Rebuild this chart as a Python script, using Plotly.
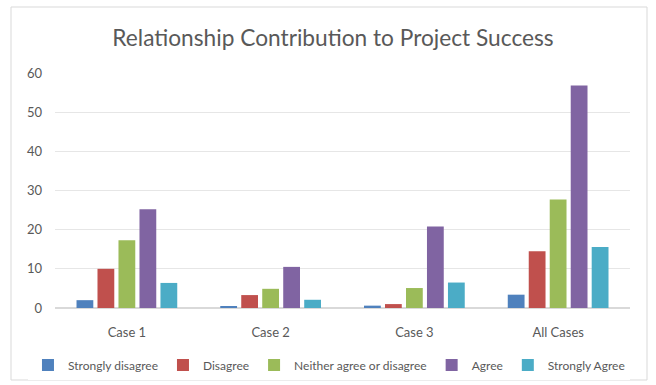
import plotly.graph_objects as go

categories = ["Case 1", "Case 2", "Case 3", "All Cases"]
series_names = ["Strongly disagree", "Disagree", "Neither agree or disagree", "Agree", "Strongly Agree"]
strongly_disagree = [2.0, 0.4, 0.6, 3.4]
disagree = [10, 3.3, 1.0, 14.5]
neither = [17.3, 4.9, 5.1, 27.7]
agree = [25.2, 10.5, 20.8, 56.8]
strongly_agree = [6.4, 2.1, 6.5, 15.6]
colors = ["#4F81BD", "#C0504D", "#9BBB59", "#8064A2", "#4BACC6"]
y_ticks = [0, 10, 20, 30, 40, 50, 60]

values = [strongly_disagree, disagree, neither, agree, strongly_agree]

fig = go.Figure()
for name, vals, col in zip(series_names, values, colors):
    fig.add_trace(go.Bar(x=categories, y=vals, name=name, marker=dict(color=col, line=dict(width=0))))

fig.update_layout(
    width=656, height=385,
    margin=dict(l=55, r=26, t=73, b=77, autoexpand=False),
    paper_bgcolor="white", plot_bgcolor="white",
    font=dict(family="Lato, Carlito, sans-serif", color="#595959", size=12),
    title=dict(text="Relationship Contribution to Project Success", x=333 / 656, xanchor="center",
               y=1 - 38 / 385, yanchor="middle", font=dict(size=22.7, color="#595959")),
    barmode="group", bargap=0.27, bargroupgap=0.2,
    showlegend=True,
    legend=dict(orientation="h", x=-0.047, xanchor="left",
                y=(308 - 365) / 235, yanchor="middle",
                font=dict(size=12, color="#595959"), itemwidth=30, traceorder="normal"),
    xaxis=dict(showgrid=False, showline=True, linecolor="#D9D9D9", ticks="", tickfont=dict(size=13),
               automargin=False, ticklabelstandoff=12),
    yaxis=dict(range=[0, 60], tickvals=y_ticks, showgrid=True, gridcolor="#E6E6E6",
               zeroline=True, zerolinecolor="#D9D9D9", ticks="", tickfont=dict(size=13),
               automargin=False, ticklabelstandoff=12),
    shapes=[dict(type="rect", xref="paper", yref="paper",
                 x0=(11 - 55) / 575, x1=(647 - 55) / 575,
                 y0=(308 - 380) / 235, y1=(308 - 7) / 235,
                 line=dict(color="#D9D9D9", width=1), fillcolor="rgba(0,0,0,0)", layer="below")],
)

fig.write_html("out.html")
